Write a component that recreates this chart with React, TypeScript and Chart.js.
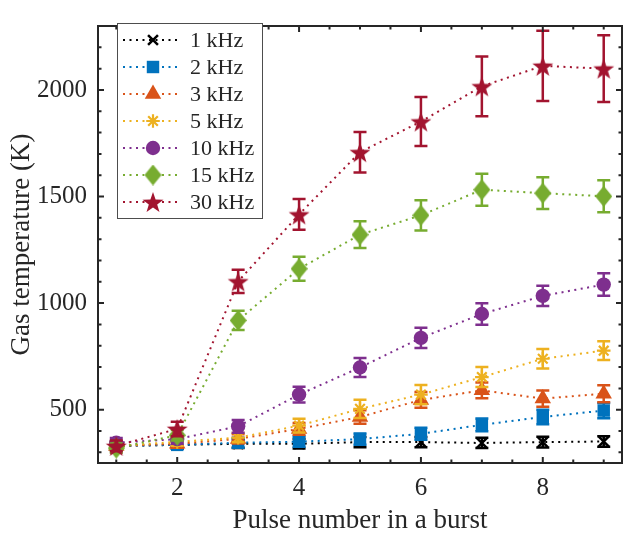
import { useEffect, useRef } from "react";
import { Chart, registerables } from "chart.js";
import { drawPoint } from "chart.js/helpers";

Chart.register(...registerables);

// Pulse index within the burst
const pulses = [1, 2, 3, 4, 5, 6, 7, 8, 9];

// Repetition frequencies (legend entries)
const freqLabels = ["1 kHz", "2 kHz", "3 kHz", "5 kHz", "10 kHz", "15 kHz", "30 kHz"];

// Gas temperature (K) per pulse, with error half-widths
const temp1k = [330, 335, 340, 340, 348, 348, 344, 348, 351];
const err1k = [18, 18, 20, 22, 24, 24, 24, 25, 25];
const temp2k = [330, 335, 345, 350, 362, 387, 429, 466, 496];
const err2k = [18, 18, 22, 24, 26, 28, 30, 34, 36];
const temp3k = [330, 340, 363, 410, 466, 546, 591, 552, 575];
const err3k = [18, 18, 22, 28, 32, 37, 37, 38, 40];
const temp5k = [330, 349, 369, 425, 504, 571, 653, 739, 777];
const err5k = [18, 18, 22, 32, 43, 45, 47, 46, 44];
const temp10k = [345, 362, 422, 571, 698, 837, 949, 1034, 1087];
const err10k = [22, 22, 30, 37, 44, 48, 50, 47, 53];
const temp15k = [320, 380, 919, 1161, 1321, 1412, 1532, 1516, 1501];
const err15k = [22, 25, 45, 56, 63, 71, 75, 74, 75];
const temp30k = [330, 410, 1102, 1416, 1708, 1852, 2017, 2113, 2100];
const err30k = [25, 34, 55, 72, 95, 115, 140, 165, 157];

const seriesTemps = [temp1k, temp2k, temp3k, temp5k, temp10k, temp15k, temp30k];
const seriesErrors = [err1k, err2k, err3k, err5k, err10k, err15k, err30k];
const seriesColors = ["#000000", "#0072BD", "#D95319", "#EDB120", "#7E2F8E", "#77AC30", "#A2142F"];

// Axis ticks and limits
const xTickValues = [2, 4, 6, 8];
const yTickValues = [500, 1000, 1500, 2000];
const xLimits = [0.7, 9.3];
const yLimits = [250, 2300];

const axisColor = "#262626";
const serif = "'Liberation Serif', 'Times New Roman', serif";

function makeStar(color: string, outer: number) {
  const size = Math.ceil(outer * 2 + 2);
  const c = document.createElement("canvas");
  c.width = size;
  c.height = size;
  const g = c.getContext("2d")!;
  const cx = size / 2;
  const cy = size / 2 + outer * 0.1;
  const inner = outer * 0.4;
  g.beginPath();
  for (let k = 0; k < 10; k++) {
    const r = k % 2 === 0 ? outer : inner;
    const a = -Math.PI / 2 + (k * Math.PI) / 5;
    const px = cx + r * Math.cos(a);
    const py = cy + r * Math.sin(a);
    if (k === 0) g.moveTo(px, py);
    else g.lineTo(px, py);
  }
  g.closePath();
  g.fillStyle = color;
  g.fill();
  return c;
}

function makeDiamond(color: string, w: number, h: number) {
  const c = document.createElement("canvas");
  c.width = w;
  c.height = h;
  const g = c.getContext("2d")!;
  g.beginPath();
  g.moveTo(w / 2, 0);
  g.lineTo(w, h / 2);
  g.lineTo(w / 2, h);
  g.lineTo(0, h / 2);
  g.closePath();
  g.fillStyle = color;
  g.fill();
  return c;
}

export default function App() {
  const canvasRef = useRef<HTMLCanvasElement | null>(null);

  useEffect(() => {
    const canvas = canvasRef.current;
    if (!canvas) return;

    const markers: any[] = [
      { pointStyle: "crossRot", pointRadius: 7, pointBorderWidth: 2.5 },
      { pointStyle: "rect", pointRadius: 8.8, pointBorderWidth: 0 },
      { pointStyle: "triangle", pointRadius: 9.5, pointBorderWidth: 0 },
      { pointStyle: "star", pointRadius: 6.8, pointBorderWidth: 2.2 },
      { pointStyle: "circle", pointRadius: 7.2, pointBorderWidth: 0 },
      { pointStyle: makeDiamond(seriesColors[5], 17, 21), pointRadius: 9, pointBorderWidth: 0 },
      { pointStyle: makeStar(seriesColors[6], 11), pointRadius: 10, pointBorderWidth: 0 },
    ];

    const datasets = seriesTemps.map((vals, i) => ({
      label: freqLabels[i],
      data: pulses.map((p, j) => ({ x: p, y: vals[j] })),
      borderColor: seriesColors[i],
      backgroundColor: seriesColors[i],
      pointBackgroundColor: seriesColors[i],
      pointBorderColor: seriesColors[i],
      borderWidth: 2,
      borderDash: [2, 4.5],
      fill: false,
      tension: 0,
      order: seriesTemps.length - i,
      ...markers[i],
    }));

    const errorBars = {
      id: "errorBars",
      beforeDatasetDraw(chart: any, args: any) {
        const i = args.index;
        const meta = args.meta;
        const ys = chart.scales.y;
        const ctx = chart.ctx;
        const cap = 6.5;
        ctx.save();
        ctx.strokeStyle = seriesColors[i];
        ctx.lineWidth = 2.5;
        ctx.setLineDash([]);
        meta.data.forEach((pt: any, j: number) => {
          const v = seriesTemps[i][j];
          const e = seriesErrors[i][j];
          const top = ys.getPixelForValue(v + e);
          const bot = ys.getPixelForValue(v - e);
          ctx.beginPath();
          ctx.moveTo(pt.x, top);
          ctx.lineTo(pt.x, bot);
          ctx.moveTo(pt.x - cap, top);
          ctx.lineTo(pt.x + cap, top);
          ctx.moveTo(pt.x - cap, bot);
          ctx.lineTo(pt.x + cap, bot);
          ctx.stroke();
        });
        ctx.restore();
      },
    };

    const frame = {
      id: "frame",
      afterDraw(chart: any) {
        const { ctx, chartArea: a } = chart;
        const xs = chart.scales.x;
        const ys = chart.scales.y;
        ctx.save();
        ctx.setLineDash([]);
        ctx.strokeStyle = axisColor;
        ctx.lineWidth = 2;
        ctx.beginPath();
        for (let v = Math.ceil(xs.min * 2) / 2; v <= xs.max; v += 0.5) {
          const len = xTickValues.includes(v) ? 6 : 3.5;
          const px = xs.getPixelForValue(v);
          ctx.moveTo(px, a.bottom);
          ctx.lineTo(px, a.bottom - len);
          ctx.moveTo(px, a.top);
          ctx.lineTo(px, a.top + len);
        }
        for (let v = Math.ceil(ys.min / 100) * 100; v <= ys.max; v += 100) {
          const len = yTickValues.includes(v) ? 6 : 3.5;
          const py = ys.getPixelForValue(v);
          ctx.moveTo(a.left, py);
          ctx.lineTo(a.left + len, py);
          ctx.moveTo(a.right, py);
          ctx.lineTo(a.right - len, py);
        }
        ctx.stroke();
        ctx.strokeRect(a.left, a.top, a.right - a.left, a.bottom - a.top);
        ctx.restore();
      },
    };

    const legendBox = {
      id: "legendBox",
      afterDraw(chart: any) {
        const ctx = chart.ctx;
        const bx = 117, by = 23, bw = 145, bh = 195;
        ctx.save();
        ctx.fillStyle = "#ffffff";
        ctx.fillRect(bx, by, bw, bh);
        ctx.strokeStyle = "#4d4d4d";
        ctx.lineWidth = 1;
        ctx.setLineDash([]);
        ctx.strokeRect(bx + 0.5, by + 0.5, bw, bh);
        freqLabels.forEach((label, i) => {
          const cy = by + 17 + i * 27;
          const ds = chart.data.datasets[i];
          ctx.strokeStyle = seriesColors[i];
          ctx.lineWidth = 2;
          ctx.setLineDash([2, 4.5]);
          ctx.beginPath();
          ctx.moveTo(123, cy);
          ctx.lineTo(181, cy);
          ctx.stroke();
          ctx.setLineDash([]);
          ctx.fillStyle = seriesColors[i];
          ctx.strokeStyle = seriesColors[i];
          ctx.lineWidth = ds.pointBorderWidth;
          drawPoint(ctx, {
            pointStyle: ds.pointStyle,
            radius: ds.pointRadius,
            borderWidth: ds.pointBorderWidth,
            rotation: 0,
          } as any, 153, cy);
          ctx.fillStyle = axisColor;
          ctx.font = `22px ${serif}`;
          ctx.textAlign = "left";
          ctx.textBaseline = "middle";
          ctx.fillText(label, 190, cy + 1);
        });
        ctx.restore();
      },
    };

    const chart = new Chart(canvas, {
      type: "line",
      data: { datasets: datasets as any },
      options: {
        responsive: false,
        animation: false,
        layout: { padding: { top: 6, right: 1, left: 0, bottom: 0 } },
        plugins: {
          legend: { display: false },
          tooltip: { enabled: false },
        },
        scales: {
          x: {
            type: "linear",
            min: xLimits[0],
            max: xLimits[1],
            afterBuildTicks: (s: any) => {
              s.ticks = xTickValues.map((v) => ({ value: v }));
            },
            afterFit: (s: any) => {
              s.height = 78;
            },
            grid: { display: false, drawTicks: false },
            border: { display: false },
            ticks: {
              color: axisColor,
              font: { family: serif, size: 25 },
              padding: 10,
              maxRotation: 0,
            },
            title: {
              display: true,
              text: "Pulse number in a burst",
              color: axisColor,
              font: { family: serif, size: 27 },
              padding: { top: 0, bottom: 4 },
            },
          },
          y: {
            type: "linear",
            min: yLimits[0],
            max: yLimits[1],
            afterBuildTicks: (s: any) => {
              s.ticks = yTickValues.map((v) => ({ value: v }));
            },
            afterFit: (s: any) => {
              s.width = 98;
            },
            grid: { display: false, drawTicks: false },
            border: { display: false },
            ticks: {
              color: axisColor,
              font: { family: serif, size: 25 },
              padding: 11,
              callback: (v: any) => String(v),
            },
            title: {
              display: true,
              text: "Gas temperature (K)",
              color: axisColor,
              font: { family: serif, size: 27 },
              padding: { top: 6, bottom: 0 },
            },
          },
        },
      },
      plugins: [errorBars, frame, legendBox],
    });

    return () => chart.destroy();
  }, []);

  return (
    <div style={{ position: "absolute", left: 0, top: 0, width: 632, height: 541, background: "#fff" }}>
      <canvas ref={canvasRef} width={632} height={541} />
    </div>
  );
}
